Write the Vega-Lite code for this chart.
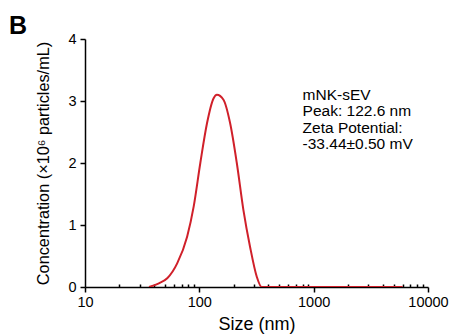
{
  "$schema": "https://vega.github.io/schema/vega-lite/v6.json",
  "width": 343,
  "height": 248,
  "autosize": {"type": "none"},
  "padding": {"left": 85, "top": 39, "right": 22, "bottom": 47},
  "background": "white",
  "config": {
    "font": "Liberation Sans",
    "view": {"stroke": null},
    "axis": {"grid": false, "domainColor": "black", "tickColor": "black", "labelColor": "black", "titleColor": "black", "labelFont": "Liberation Sans", "titleFont": "Liberation Sans", "titleFontWeight": "normal"}
  },
  "title": {"text": "B", "anchor": "start", "frame": "group", "fontSize": 25, "fontWeight": "bold", "font": "Liberation Sans", "dx": -76, "dy": 12, "color": "black"},
  "datasets": {
    "curve": [
      {"size": 36.3, "conc": 0},
      {"size": 44.3, "conc": 0.06},
      {"size": 52.4, "conc": 0.14},
      {"size": 64, "conc": 0.38},
      {"size": 78.2, "conc": 0.81},
      {"size": 89.3, "conc": 1.3},
      {"size": 102, "conc": 2.0},
      {"size": 116.7, "conc": 2.64},
      {"size": 133, "conc": 3.04},
      {"size": 142.5, "conc": 3.1},
      {"size": 162.6, "conc": 3.02},
      {"size": 186, "conc": 2.64},
      {"size": 212.7, "conc": 2.0},
      {"size": 243, "conc": 1.24},
      {"size": 277.6, "conc": 0.65},
      {"size": 317.5, "conc": 0.17},
      {"size": 351, "conc": 0},
      {"size": 1000, "conc": 0},
      {"size": 6000, "conc": 0}
    ],
    "note": [
      {"size": 800, "conc": 3.21, "label": "mNK-sEV\nPeak: 122.6 nm\nZeta Potential:\n-33.44±0.50 mV"}
    ]
  },
  "layer": [
    {
      "data": {"name": "curve"},
      "mark": {"type": "line", "color": "#d0202a", "strokeWidth": 2, "interpolate": "monotone", "clip": true},
      "encoding": {
        "x": {"field": "size", "type": "quantitative", "scale": {"type": "log", "domain": [10, 10000]},
          "axis": {"values": [10,20,30,40,50,60,70,80,90,100,200,300,400,500,600,700,800,900,1000,2000,3000,4000,5000,6000,7000,8000,9000,10000],
            "labelExpr": "indexof([10,100,1000,10000], datum.value) >= 0 ? format(datum.value, 'd') : ''",
            "tickSize": {"condition": {"test": "indexof([10,100,1000,10000], datum.value) >= 0", "value": 5}, "value": -3},
            "title": "Size (nm)", "titleFontSize": 18, "labelFontSize": 14.5, "domainWidth": 1.5, "tickWidth": 1.5, "labelPadding": 3, "titlePadding": 7, "labelFlush": false, "labelOverlap": false}},
        "y": {"field": "conc", "type": "quantitative", "scale": {"domain": [0, 4]},
          "axis": {"values": [0, 0.5, 1, 1.5, 2, 2.5, 3, 3.5, 4],
            "labelExpr": "datum.value % 1 == 0 ? format(datum.value, 'd') : ''",
            "tickSize": {"condition": {"test": "datum.value % 1 == 0", "value": 5}, "value": 3},
            "title": "Concentration (×10⁶ particles/mL)", "titleFontSize": 16.3, "labelFontSize": 14.5, "domainWidth": 1.5, "tickWidth": 1.5, "labelPadding": 4, "titlePadding": 16, "labelOverlap": false}}
      }
    },
    {
      "data": {"name": "note"},
      "mark": {"type": "text", "align": "left", "baseline": "top", "fontSize": 15.5, "lineBreak": "\n", "lineHeight": 16.5, "color": "black", "font": "Liberation Sans"},
      "encoding": {
        "x": {"field": "size", "type": "quantitative"},
        "y": {"field": "conc", "type": "quantitative"},
        "text": {"field": "label"}
      }
    }
  ]
}
